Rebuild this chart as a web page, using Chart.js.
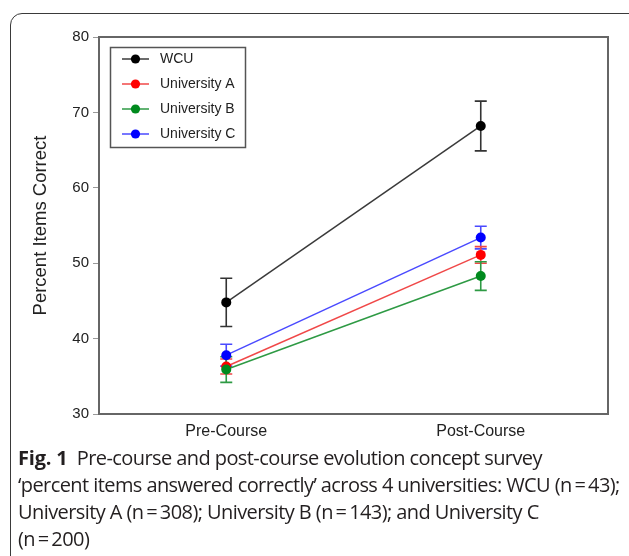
<!DOCTYPE html>
<html>
<head>
<meta charset="utf-8">
<script src="https://cdn.jsdelivr.net/npm/chart.js@4/dist/chart.umd.min.js"></script>
<style>
  body { margin: 0; background: #fff; width: 629px; height: 556px; overflow: hidden; position: relative; }
  #box { position: absolute; left: 10px; top: 13px; width: 630px; height: 600px; border: 1.5px solid #3a3a3a; border-radius: 12px; }
  #wrap { position: absolute; left: 0; top: 0; width: 629px; height: 445px; }
  #caption { position: absolute; left: 18px; top: 444px; font-family: "Open Sans", sans-serif; font-size: 20px; line-height: 27px; color: #231f20; letter-spacing: -0.58px; white-space: nowrap; }
  #caption b { font-weight: 700; letter-spacing: -0.2px; }
</style>
</head>
<body>
<div id="box"></div>
<div id="wrap"><canvas id="chart"></canvas></div>
<div id="caption"><b>Fig. 1</b>&nbsp;&nbsp;Pre-course and post-course evolution concept survey<br>‘percent items answered correctly’ across 4 universities: WCU (n&thinsp;=&thinsp;43);<br>University A (n&thinsp;=&thinsp;308); University B (n&thinsp;=&thinsp;143); and University C<br>(n&thinsp;=&thinsp;200)</div>
<script>
// data
const categories = ['Pre-Course', 'Post-Course'];
const seriesNames = ['WCU', 'University A', 'University B', 'University C'];
const wcu = [44.8, 68.2];
const uniA = [36.3, 51.1];
const uniB = [35.9, 48.3];
const uniC = [37.8, 53.4];
// +/- error (percent points)
const wcuErr = [3.2, 3.3];
const uniAErr = [1.0, 1.1];
const uniBErr = [1.7, 1.9];
const uniCErr = [1.45, 1.5];
const yTicks = [30, 40, 50, 60, 70, 80];

const lineColors = ['#3a3a3a', '#f04848', '#2e9a44', '#4a4aff'];
const dotColors = ['#000000', '#ff0000', '#008a1e', '#0000ff'];
const errColors = ['#333333', '#f04848', '#2e9a44', '#4a4aff'];
const errors = [wcuErr, uniAErr, uniBErr, uniCErr];

function makeSet(label, values, i, order) {
    return {
        label: label,
        data: values,
        borderColor: lineColors[i],
        borderWidth: 1.5,
        backgroundColor: dotColors[i],
        pointBackgroundColor: dotColors[i],
        pointBorderColor: dotColors[i],
        pointRadius: 5,
        pointBorderWidth: 0,
        tension: 0,
        order: order
    };
}

const extras = {
    id: 'extras',
    beforeDatasetsDraw(chart) {
        const ctx = chart.ctx;
        const xs = chart.scales.x, ys = chart.scales.y;
        ctx.save();
        ctx.lineWidth = 1.6;
        [0, 3, 1, 2].forEach(i => {
            const ds = chart.data.datasets[i];
            ctx.strokeStyle = errColors[i];
            ds.data.forEach((v, j) => {
                const px = xs.getPixelForValue(j);
                const t = ys.getPixelForValue(v + errors[i][j]);
                const b = ys.getPixelForValue(v - errors[i][j]);
                ctx.beginPath();
                ctx.moveTo(px, t); ctx.lineTo(px, b);
                ctx.moveTo(px - 6, t); ctx.lineTo(px + 6, t);
                ctx.moveTo(px - 6, b); ctx.lineTo(px + 6, b);
                ctx.stroke();
            });
        });
        ctx.restore();
    },
    afterDraw(chart) {
        const ctx = chart.ctx;
        const a = chart.chartArea;
        ctx.save();
        // top and right frame lines
        ctx.strokeStyle = '#666';
        ctx.lineWidth = 2;
        ctx.beginPath();
        ctx.moveTo(a.left, a.top);
        ctx.lineTo(a.right, a.top);
        ctx.lineTo(a.right, a.bottom);
        ctx.stroke();

        // legend box
        ctx.strokeStyle = '#555';
        ctx.lineWidth = 1.5;
        ctx.strokeRect(110.5, 47.5, 135, 100);
        ctx.font = '14px "Liberation Sans", Arial, sans-serif';
        ctx.textBaseline = 'middle';
        seriesNames.forEach((name, i) => {
            const yy = 59 + i * 25;
            ctx.strokeStyle = lineColors[i];
            ctx.lineWidth = 1.5;
            ctx.beginPath();
            ctx.moveTo(122, yy); ctx.lineTo(149, yy);
            ctx.stroke();
            ctx.fillStyle = dotColors[i];
            ctx.beginPath();
            ctx.arc(135.5, yy, 4.6, 0, Math.PI * 2);
            ctx.fill();
            ctx.fillStyle = '#222';
            ctx.fillText(name, 160, yy);
        });
        ctx.restore();
    }
};

const ctx = document.getElementById('chart').getContext('2d');
const chart = new Chart(ctx, {
    type: 'line',
    data: {
        labels: categories,
        datasets: [
            makeSet(seriesNames[0], wcu, 0, 0),
            makeSet(seriesNames[1], uniA, 1, 3),
            makeSet(seriesNames[2], uniB, 2, 1),
            makeSet(seriesNames[3], uniC, 3, 2)
        ]
    },
    options: {
        responsive: true,
        maintainAspectRatio: false,
        animation: false,
        layout: { padding: { top: 37, right: 21, bottom: 0, left: 0 } },
        plugins: {
            legend: { display: false },
            tooltip: { enabled: false }
        },
        scales: {
            x: {
                offset: true,
                grid: { display: false, drawTicks: false },
                border: { display: true, color: '#666', width: 2 },
                ticks: { color: '#222', padding: 8, font: { family: '"Liberation Sans", Arial, sans-serif', size: 16 } },
                afterFit: (s) => { s.height = 31; }
            },
            y: {
                min: 30,
                max: 80,
                afterBuildTicks: (s) => { s.ticks = yTicks.map(v => ({ value: v })); },
                grid: { drawOnChartArea: false, drawTicks: true, tickLength: 6, color: '#999' },
                border: { display: true, color: '#666', width: 2 },
                ticks: { color: '#222', padding: 4, font: { family: '"Liberation Sans", Arial, sans-serif', size: 15 } },
                title: {
                    display: true,
                    text: 'Percent Items Correct',
                    color: '#222',
                    font: { family: '"Liberation Sans", Arial, sans-serif', size: 18.5 },
                    padding: { top: 30, bottom: 0 }
                },
                afterFit: (s) => { s.width = 99; }
            }
        }
    },
    plugins: [extras]
});
</script>
</body>
</html>
